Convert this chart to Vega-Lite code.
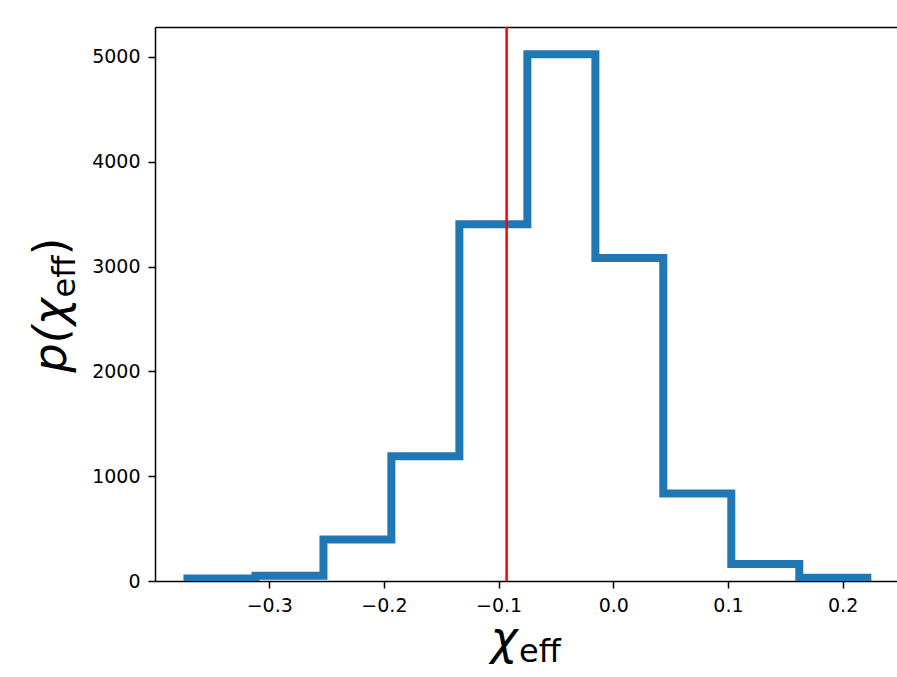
{
  "$schema": "https://vega.github.io/schema/vega-lite/v6.json",
  "width": 742,
  "height": 554,
  "autosize": "none",
  "padding": {"left": 155, "top": 27, "right": 0, "bottom": 96},
  "background": "white",
  "config": {"view": {"stroke": null}, "font": "DejaVu Sans"},
  "title": {
    "text": "eff",
    "orient": "bottom",
    "anchor": "start",
    "frame": "group",
    "dx": 364,
    "dy": 0,
    "offset": 0,
    "font": "DejaVu Sans",
    "fontSize": 32,
    "fontWeight": "normal",
    "color": "#000",
    "baseline": "alphabetic"
  },
  "layer": [
    {
      "data": {
        "values": [
          {"i": 0, "edge": -0.3713, "count": 0},
          {"i": 1, "edge": -0.3713, "count": 24},
          {"i": 2, "edge": -0.3120, "count": 50},
          {"i": 3, "edge": -0.2527, "count": 395},
          {"i": 4, "edge": -0.1935, "count": 1190},
          {"i": 5, "edge": -0.1342, "count": 3405},
          {"i": 6, "edge": -0.0749, "count": 5026},
          {"i": 7, "edge": -0.0156, "count": 3081},
          {"i": 8, "edge": 0.0436, "count": 836},
          {"i": 9, "edge": 0.1029, "count": 162},
          {"i": 10, "edge": 0.1622, "count": 30},
          {"i": 11, "edge": 0.2215, "count": 0}
        ]
      },
      "mark": {
        "type": "line",
        "interpolate": "step-after",
        "color": "#1f77b4",
        "strokeWidth": 8,
        "strokeJoin": "miter",
        "strokeCap": "butt",
        "clip": true
      },
      "encoding": {
        "x": {
          "field": "edge",
          "type": "quantitative",
          "scale": {"domain": [-0.3996, 0.2474], "nice": false, "zero": false},
          "axis": {
            "orient": "bottom",
            "values": [-0.3, -0.2, -0.1, 0, 0.1, 0.2],
            "format": ".1f",
            "grid": false,
            "domain": true,
            "domainColor": "#000",
            "domainWidth": 1.5,
            "ticks": true,
            "tickSize": 7,
            "tickWidth": 1.5,
            "tickColor": "#000",
            "labelFlush": false,
            "labelFont": "DejaVu Sans",
            "labelFontSize": 19,
            "labelColor": "#000",
            "labelPadding": 8,
            "title": "χ",
            "titleFont": "DejaVu Sans",
            "titleFontSize": 46,
            "titleFontStyle": "italic",
            "titleFontWeight": "normal",
            "titleColor": "#000",
            "titleAngle": 0,
            "titleAlign": "left",
            "titleBaseline": "alphabetic",
            "titleX": 335,
            "titleY": 72
          }
        },
        "y": {
          "field": "count",
          "type": "quantitative",
          "scale": {"domain": [0, 5286], "nice": false},
          "axis": {
            "orient": "left",
            "values": [0, 1000, 2000, 3000, 4000, 5000],
            "format": "d",
            "grid": false,
            "domain": true,
            "domainColor": "#000",
            "domainWidth": 1.5,
            "ticks": true,
            "tickSize": 7,
            "tickWidth": 1.5,
            "tickColor": "#000",
            "labelFont": "DejaVu Sans",
            "labelFontSize": 19,
            "labelColor": "#000",
            "labelPadding": 8,
            "title": "p(χ",
            "titleFont": "DejaVu Sans",
            "titleFontSize": 46,
            "titleFontStyle": "italic",
            "titleFontWeight": "normal",
            "titleColor": "#000",
            "titleAngle": -90,
            "titleAlign": "left",
            "titleBaseline": "alphabetic",
            "titleX": -90,
            "titleY": 345
          }
        },
        "order": {"field": "i", "type": "quantitative"}
      }
    },
    {
      "data": {"values": [{"chi": -0.093}]},
      "mark": {"type": "rule", "color": "red", "strokeWidth": 2.5},
      "encoding": {
        "x": {
          "field": "chi",
          "type": "quantitative",
          "axis": {
            "orient": "top",
            "domain": true,
            "domainColor": "#000",
            "domainWidth": 1.5,
            "ticks": false,
            "labels": false,
            "grid": false,
            "title": ")",
            "titleFont": "DejaVu Sans",
            "titleFontSize": 46,
            "titleFontStyle": "normal",
            "titleFontWeight": "normal",
            "titleColor": "#000",
            "titleAngle": -90,
            "titleAlign": "left",
            "titleBaseline": "alphabetic",
            "titleX": -90,
            "titleY": 228
          }
        },
        "y": {
          "datum": 0,
          "type": "quantitative",
          "axis": {
            "orient": "right",
            "domain": false,
            "ticks": false,
            "labels": false,
            "grid": false,
            "title": "eff",
            "titleFont": "DejaVu Sans",
            "titleFontSize": 32,
            "titleFontStyle": "normal",
            "titleFontWeight": "normal",
            "titleColor": "#000",
            "titleAngle": -90,
            "titleAlign": "left",
            "titleBaseline": "alphabetic",
            "titleX": -823,
            "titleY": 270
          }
        },
        "y2": {"datum": 5286}
      }
    }
  ],
  "resolve": {"axis": {"x": "independent", "y": "independent"}}
}
